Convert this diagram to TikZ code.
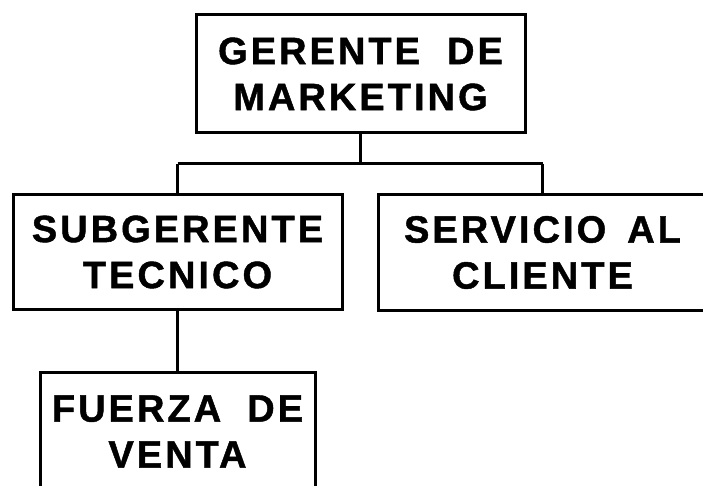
\documentclass[tikz,border=0pt]{standalone}
\usepackage{fontspec}
\newfontfamily\boxfont{Liberation Sans Bold}[LetterSpace=8, FakeBold=1.2]
\begin{document}
\begin{tikzpicture}[x=1pt,y=1pt,
  orgbox/.style={draw=black, line width=3pt, rectangle, inner sep=0pt, align=center,
    font=\boxfont\fontsize{38}{46}\selectfont},
  link/.style={draw=black, line width=3pt}]
\useasboundingbox (0,0) rectangle (703,485);
\clip (0,0) rectangle (703,485);
\node[orgbox, minimum width=329pt, minimum height=118pt] (ger) at (360.5,411) {GERENTE\hspace{27pt}DE\\MARKETING};
\node[orgbox, minimum width=329pt, minimum height=114pt] (sub) at (177.5,233) {SUBGERENTE\\TECNICO};
\node[orgbox, minimum width=329pt, minimum height=115pt] (ser) at (542.5,232.5) {SERVICIO\hspace{21pt}AL\\CLIENTE};
\node[orgbox, minimum width=275pt, minimum height=119pt] (fue) at (177.5,53.5) {FUERZA\hspace{26pt}DE\\VENTA};
\coordinate (bus) at (0,321);
\draw[link] (ger.south) -- (ger.south |- bus);
\draw[link] (sub.north |- bus) -- (ser.north |- bus);
\draw[link] (sub.north |- bus) -- (sub.north);
\draw[link] (ser.north |- bus) -- (ser.north);
\draw[link] (sub.south) -- (fue.north);
\end{tikzpicture}
\end{document}
